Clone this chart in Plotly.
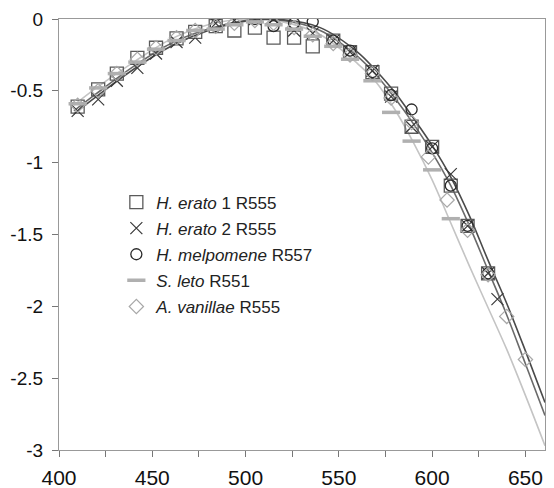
import plotly.graph_objects as go

# wavelengths (nm)
wl = [410, 421, 431, 442, 452, 463, 473, 484, 494, 505, 515, 526, 536, 547,
      556, 568, 578, 589, 600, 610, 619, 630]

erato1 = [-0.61, -0.49, -0.38, -0.27, -0.20, -0.135, -0.09, -0.05, -0.08, -0.06, -0.13,
          -0.13, -0.19, -0.15, -0.23, -0.37, -0.52, -0.75, -0.89, -1.16, -1.44, -1.77]

erato2_wl = [410, 421, 431, 442, 452, 463, 473, 484, 494, 505, 515, 526, 536, 547,
             556, 568, 578, 589, 600, 610, 619, 630, 635]
erato2 = [-0.64, -0.56, -0.43, -0.34, -0.24, -0.16, -0.13, -0.03, -0.01, 0.0, 0.0,
          -0.08, -0.10, -0.15, -0.23, -0.36, -0.54, -0.75, -0.89, -1.08, -1.44, -1.77, -1.95]

melp_wl = [484, 505, 515, 526, 536, 547, 556, 568, 578, 589, 600, 610, 619, 630]
melp = [-0.05, 0.0, -0.05, -0.03, -0.02, -0.15, -0.22, -0.37, -0.53, -0.63, -0.90,
        -1.16, -1.44, -1.77]

leto_wl = [410, 421, 431, 442, 452, 463, 473, 484, 494, 505, 515, 526, 536, 547,
           556, 568, 578, 589, 600, 610]
leto = [-0.59, -0.48, -0.38, -0.30, -0.21, -0.15, -0.08, -0.07, -0.04, -0.02, -0.04,
        -0.07, -0.12, -0.19, -0.28, -0.43, -0.65, -0.85, -1.05, -1.39]

van_wl = [410, 421, 431, 442, 452, 463, 473, 484, 494, 505, 515, 526, 536, 547,
          556, 568, 578, 589, 598, 608, 619, 630, 640, 650]
van = [-0.60, -0.50, -0.38, -0.28, -0.20, -0.13, -0.08, -0.05, -0.03, -0.01, -0.03,
       -0.06, -0.11, -0.17, -0.25, -0.38, -0.55, -0.72, -0.96, -1.26, -1.47, -1.78,
       -2.07, -2.37]

# template curves
curve_wl = [408, 420, 440, 460, 480, 500, 520, 540, 560, 570, 580, 590, 600, 610,
            620, 630, 640, 650, 660.5]
r555 = [-0.64, -0.52, -0.33, -0.17, -0.07, -0.01, -0.01, -0.08, -0.26, -0.39, -0.55,
        -0.73, -0.93, -1.16, -1.44, -1.75, -2.06, -2.40, -2.76]
r557 = [-0.66, -0.54, -0.35, -0.19, -0.08, -0.015, -0.005, -0.06, -0.23, -0.36, -0.51,
        -0.69, -0.88, -1.10, -1.37, -1.68, -1.98, -2.31, -2.67]
r551 = [-0.60, -0.48, -0.30, -0.14, -0.04, 0.0, -0.02, -0.11, -0.31, -0.44, -0.63,
        -0.86, -1.12, -1.42, -1.72, -2.01, -2.30, -2.62, -2.97]

xtick_vals = [400, 425, 450, 475, 500, 525, 550, 575, 600, 625, 650]
xtick_text = ["400", "", "450", "", "500", "", "550", "", "600", "", "650"]
ytick_vals = [0, -0.5, -1, -1.5, -2, -2.5, -3]
ytick_text = ["0", "-0.5", "-1", "-1.5", "-2", "-2.5", "-3"]

fig = go.Figure()

# fitted curves
for ys, col in [(r551, "#c4c4c4"), (r555, "#6a6a6a"), (r557, "#4a4a4a")]:
    fig.add_trace(go.Scatter(x=curve_wl, y=ys, mode="lines", line_shape="spline",
                             line=dict(color=col, width=1.6), showlegend=False,
                             hoverinfo="skip"))

fig.add_trace(go.Scatter(
    x=wl, y=erato1, mode="markers", name="<i>H. erato</i> 1 R555", legendgroup="a",
    marker=dict(symbol="square-open", size=13, color="#5a5a5a", line=dict(width=1.3))
))
fig.add_trace(go.Scatter(
    x=erato2_wl, y=erato2, mode="markers", name="<i>H. erato</i> 2 R555", legendgroup="b",
    marker=dict(symbol="x-thin-open", size=12, color="#3a3a3a", line=dict(width=1.2))
))
fig.add_trace(go.Scatter(
    x=melp_wl, y=melp, mode="markers", name="<i>H. melpomene</i> R557", legendgroup="c",
    marker=dict(symbol="circle-open", size=11, color="#2a2a2a", line=dict(width=1.3))
))
fig.add_trace(go.Scatter(
    x=leto_wl, y=leto, mode="markers", name="<i>S. leto</i> R551", legendgroup="d",
    marker=dict(symbol="line-ew-open", size=13, color="#b0b0b0",
                line=dict(color="#b0b0b0", width=3.5))
))
fig.add_trace(go.Scatter(
    x=van_wl, y=van, mode="markers", name="<i>A. vanillae</i> R555", legendgroup="e",
    marker=dict(symbol="diamond-open", size=11, color="#a8a8a8", line=dict(width=1.2))
))

# page has an 8px body margin; keep the figure inside the visible area
fig.update_layout(
    width=538, height=480,
    margin=dict(l=51, r=1, t=11, b=38),
    plot_bgcolor="white", paper_bgcolor="white",
    font=dict(family="Liberation Sans, Arial, sans-serif", color="#111"),
    legend=dict(
        x=0.118, y=0.616, xanchor="left", yanchor="top",
        font=dict(size=17, color="#222"), bgcolor="rgba(0,0,0,0)",
        traceorder="grouped", tracegroupgap=1,
    ),
    xaxis=dict(
        range=[400, 660.5], tickvals=xtick_vals, ticktext=xtick_text,
        ticks="outside", ticklen=6, tickcolor="#777", showgrid=False, zeroline=False,
        showline=True, linecolor="#999", linewidth=1.2, mirror=True,
        tickfont=dict(size=21), automargin=False, ticklabeloverflow="allow",
        ticklabelstandoff=3,
    ),
    yaxis=dict(
        range=[-3, 0], tickvals=ytick_vals, ticktext=ytick_text,
        ticks="outside", ticklen=6, tickcolor="#777", showgrid=False, zeroline=False,
        showline=True, linecolor="#999", linewidth=1.2, mirror=True,
        tickfont=dict(size=19), automargin=False, ticklabeloverflow="allow",
        ticklabelstandoff=5,
    ),
)

fig.write_html("out.html")
